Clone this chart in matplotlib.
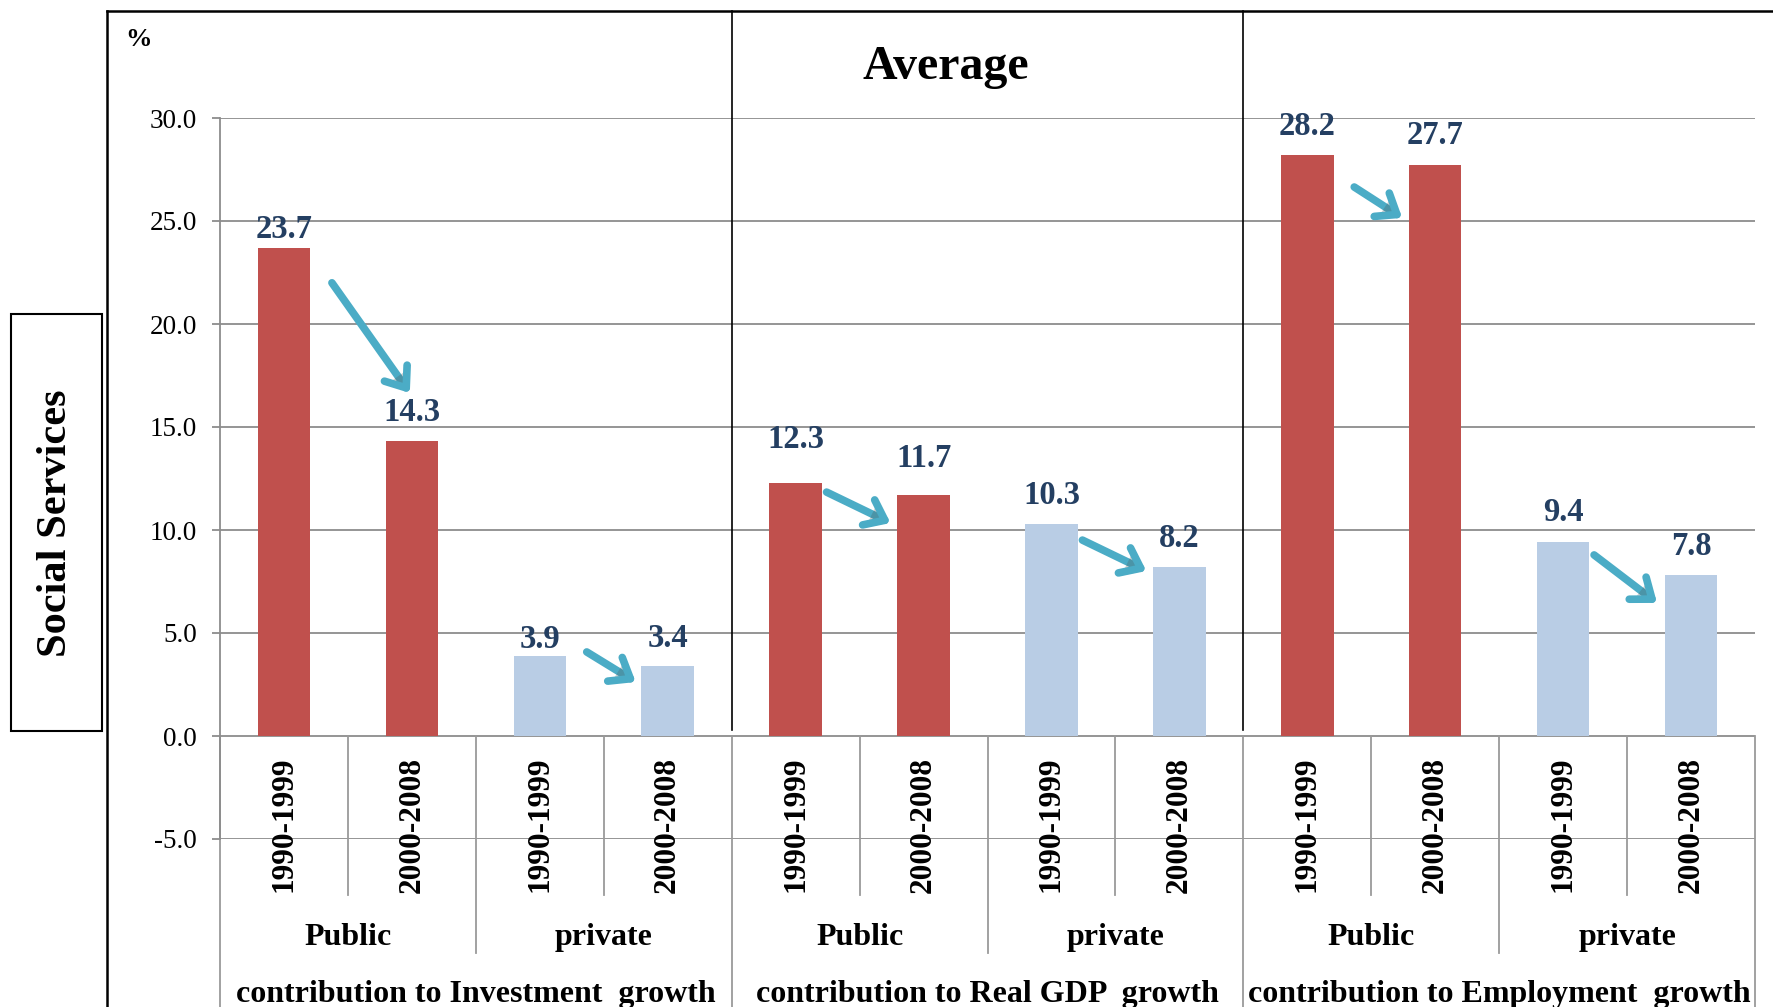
import numpy as np
import matplotlib
matplotlib.use("Agg")
import matplotlib.pyplot as plt
import matplotlib.patheffects as pe
from matplotlib.lines import Line2D
from matplotlib.patches import Rectangle
from matplotlib.ticker import FormatStrFormatter

plt.rcParams["font.family"] = ["Liberation Serif", "DejaVu Serif"]

# ---- data ----
periods = ["1990-1999", "2000-2008"]
sectors = ["Public", "private"]
measures = [
    "contribution to Investment  growth",
    "contribution to Real GDP  growth",
    "contribution to Employment  growth",
]
# order inside each measure: Public 90-99, Public 00-08, private 90-99, private 00-08
investment = [23.7, 14.3, 3.9, 3.4]
real_gdp = [12.3, 11.7, 10.3, 8.2]
employment = [28.2, 27.7, 9.4, 7.8]

# ---- styling / placement ----
RED = "#C0504D"
BLUE = "#B9CDE5"
TEAL = "#4BACC6"
LABEL = "#243F62"
GRID = "#8C8C8C"
SEP = "#9A9A9A"

# gap (px) between bar top and centre of its value label
label_gap_px = [18, 29, 16, 27, 43, 36, 28.5, 29, 28.5, 30, 30, 29]
# arrows between the two periods: (start, tip) in data units
arrow_paths = [
    ((0.375, 22.0), (0.984, 16.65)),
    ((2.367, 4.08), (2.75, 2.62)),
    ((4.242, 11.84), (4.742, 10.34)),
    ((6.242, 9.51), (6.742, 8.01)),
    ((8.367, 26.65), (8.742, 25.15)),
    ((10.242, 8.79), (10.734, 6.46)),
]

W, H = 1773, 1007


def fx(px):
    return px / W


def fy(py):
    return 1 - py / H


fig = plt.figure(figsize=(W / 100, H / 100), dpi=100)
ax = fig.add_axes([fx(220), fy(839), fx(1755) - fx(220), fy(118) - fy(839)])

values = investment + real_gdp + employment
xs = np.arange(len(values))
colors = [RED if (i // 2) % 2 == 0 else BLUE for i in xs]

ax.bar(xs, values, width=0.41, color=colors, zorder=2)

for x, v, gap in zip(xs, values, label_gap_px):
    ax.annotate(f"{v:.1f}", (x, v), xytext=(0, gap * 0.72),
                textcoords="offset points", ha="center", va="center",
                fontsize=23.5, fontweight="bold", color=LABEL, zorder=4)

for (x0, y0), (x1, y1) in arrow_paths:
    ax.annotate("", xy=(x1, y1), xytext=(x0, y0),
                arrowprops=dict(arrowstyle="->,head_length=0.65,head_width=0.5",
                                mutation_scale=20, lw=5.5, color=TEAL,
                                shrinkA=0, shrinkB=0,
                                path_effects=[pe.withSimplePatchShadow(
                                    offset=(2, -2), alpha=0.25)]),
                zorder=5)

ax.set_xlim(-0.5, 11.5)
ax.set_ylim(-5, 30)
ax.set_yticks(np.arange(-5, 31, 5))
ax.yaxis.set_major_formatter(FormatStrFormatter("%.1f"))
ax.set_xticks([])
ax.grid(axis="y", color=GRID, lw=1.3)
ax.set_axisbelow(True)
ax.tick_params(axis="y", direction="out", length=5.8, width=1.3, color=GRID,
               pad=11, labelsize=19.5)
for s in ["top", "right", "bottom"]:
    ax.spines[s].set_visible(False)
ax.spines["left"].set_color(GRID)
ax.spines["left"].set_linewidth(1.3)
ax.patch.set_alpha(0)

# multi-level category axis under the zero line
for i in range(len(values) + 1):
    x = i - 0.5
    if i % 4 == 0:
        depth = -14
    elif i % 2 == 0:
        depth = -10.53
    else:
        depth = -7.72
    ax.plot([x, x], [0, depth], color=SEP, lw=1.3, clip_on=False, zorder=1)

for x in xs:
    ax.text(x, -1.0, periods[x % 2], rotation=90, ha="center", va="top",
            fontsize=22.5, fontweight="bold")
for k in range(len(values) // 2):
    ax.text(2 * k + 0.5, -10.15, sectors[k % 2], ha="center", va="baseline",
            fontsize=23, fontweight="bold")
for m, name in enumerate(measures):
    ax.text(4 * m + 1.5, -12.9, name, ha="center", va="baseline",
            fontsize=23, fontweight="bold")

# black dividers between the three measures
for x in (3.5, 7.5):
    ax.plot([x, x], [0.3, (736 - 11) / 20.6], color="k", lw=1.2,
            clip_on=False, zorder=3)

# outer frame (left and top)
fig.add_artist(Line2D([fx(107), fx(107)], [fy(11), 0], transform=fig.transFigure,
                      color="k", lw=1.8, solid_capstyle="projecting"))
fig.add_artist(Line2D([fx(107), 1], [fy(11), fy(11)], transform=fig.transFigure,
                      color="k", lw=1.8, solid_capstyle="projecting"))

fig.text(fx(946), fy(79), "Average", ha="center", va="baseline",
         fontsize=34.5, fontweight="bold")
fig.text(fx(139), fy(39), "%", ha="center", va="center",
         fontsize=19, fontweight="bold")

fig.add_artist(Rectangle((fx(11), fy(731)), fx(102) - fx(11), fy(314) - fy(731),
                         transform=fig.transFigure, fill=False, ec="k", lw=1.5))
fig.text(fx(56), fy(523), "Social Services", rotation=90, ha="center",
         va="center", fontsize=30.5, fontweight="bold")

fig.savefig("out.png", dpi=100, facecolor="white")
